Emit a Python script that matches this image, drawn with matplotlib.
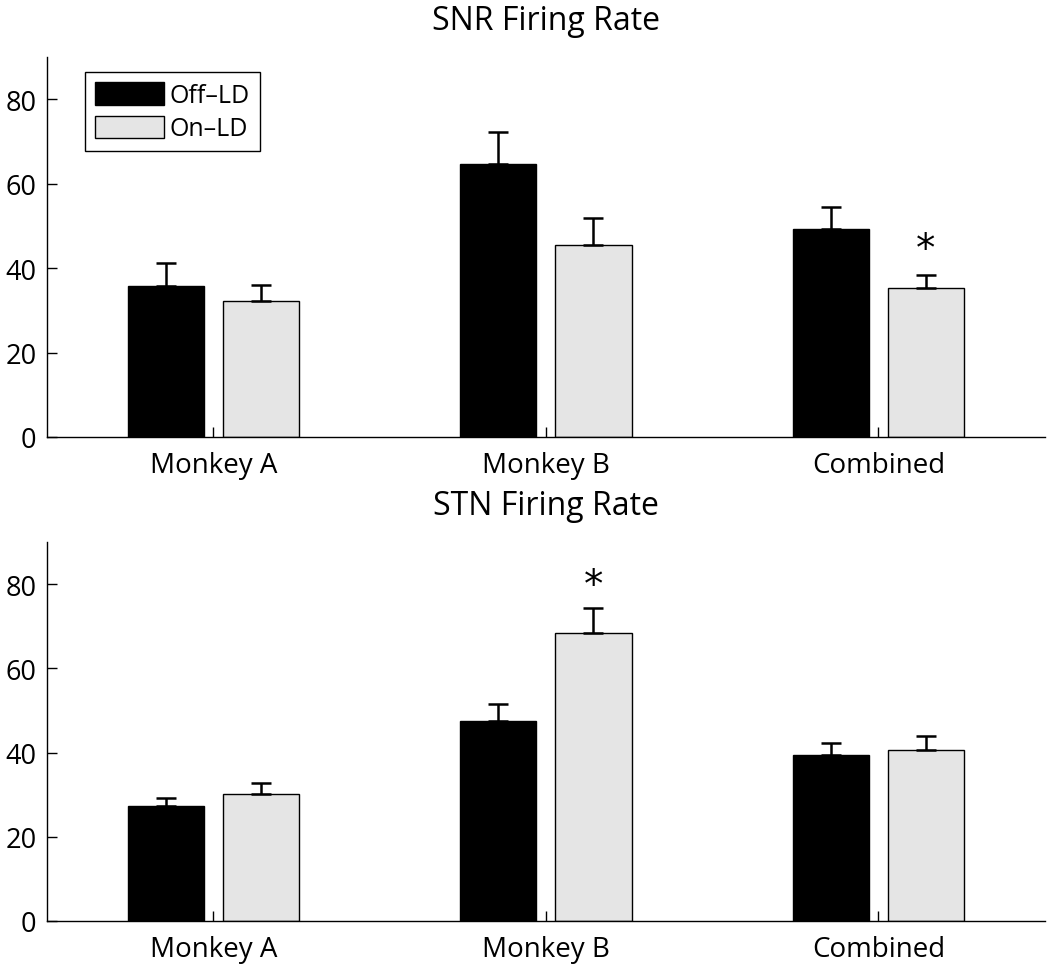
import matplotlib
matplotlib.use("Agg")
import matplotlib.pyplot as plt
import numpy as np

plt.rcParams['font.family'] = ['Open Sans', 'DejaVu Sans']

groups = ["Monkey A", "Monkey B", "Combined"]
series = ["Off–LD", "On–LD"]

snr_off = [35.7, 64.7, 49.3]
snr_off_err = [5.6, 7.6, 5.3]
snr_on = [32.3, 45.5, 35.3]
snr_on_err = [3.7, 6.5, 3.1]

stn_off = [27.3, 47.6, 39.3]
stn_off_err = [1.9, 3.9, 2.9]
stn_on = [30.1, 68.3, 40.7]
stn_on_err = [2.7, 6.1, 3.2]

snr_stars = [(2, 1, 44.6)]   # (group index, series index, y)
stn_stars = [(1, 1, 79.7)]

yticks = [0, 20, 40, 60, 80]

fig = plt.figure(figsize=(10.5, 9.7), dpi=100)
ax1 = fig.add_axes([0.0448, 0.5485, 0.9502, 0.3915])
ax2 = fig.add_axes([0.0448, 0.0495, 0.9502, 0.3907])

colors = ['black', '#e5e5e5']
width = 0.229
offset = 0.143
x = np.arange(1, len(groups) + 1)

def draw(ax, off, off_err, on, on_err, stars, title, legend=False):
    vals = [off, on]
    errs = [off_err, on_err]
    handles = []
    for i in range(2):
        xs = x + (i * 2 - 1) * offset
        b = ax.bar(xs, vals[i], width, color=colors[i], edgecolor='black',
                   linewidth=1.0, label=series[i], zorder=2)
        handles.append(b)
        ax.errorbar(xs, vals[i], yerr=[np.zeros(len(xs)), errs[i]], fmt='none',
                    ecolor='black', elinewidth=1.8, capsize=7, capthick=1.8, zorder=3)
    for g, s, y in stars:
        ax.text(x[g] + (s * 2 - 1) * offset, y, '*', ha='center', va='center',
                fontsize=28, fontfamily='DejaVu Sans')
    ax.set_xlim(0.5, 3.5)
    ax.set_ylim(0, 90)
    ax.set_xticks(x)
    ax.set_xticklabels(groups, fontsize=20)
    ax.set_yticks(yticks)
    ax.tick_params(axis='both', direction='in', length=7, width=1)
    ax.tick_params(axis='x', pad=10, labelsize=20)
    ax.tick_params(axis='y', pad=7.5, labelsize=19.5)
    for sp in ['top', 'right']:
        ax.spines[sp].set_visible(False)
    ax.spines['left'].set_linewidth(1)
    ax.spines['bottom'].set_linewidth(1)
    ax.set_title(title, fontsize=23, pad=20)
    if legend:
        leg = ax.legend(handles=handles, loc='upper left', bbox_to_anchor=(0.038, 0.96),
                        fontsize=18, fancybox=False, edgecolor='black', framealpha=1,
                        handlelength=2.75, handleheight=1.0, handletextpad=0.25,
                        borderpad=0.4, labelspacing=0.3, borderaxespad=0)
        leg.get_frame().set_linewidth(1)

draw(ax1, snr_off, snr_off_err, snr_on, snr_on_err, snr_stars, "SNR Firing Rate", legend=True)
draw(ax2, stn_off, stn_off_err, stn_on, stn_on_err, stn_stars, "STN Firing Rate")

fig.savefig("out.png", dpi=100)
